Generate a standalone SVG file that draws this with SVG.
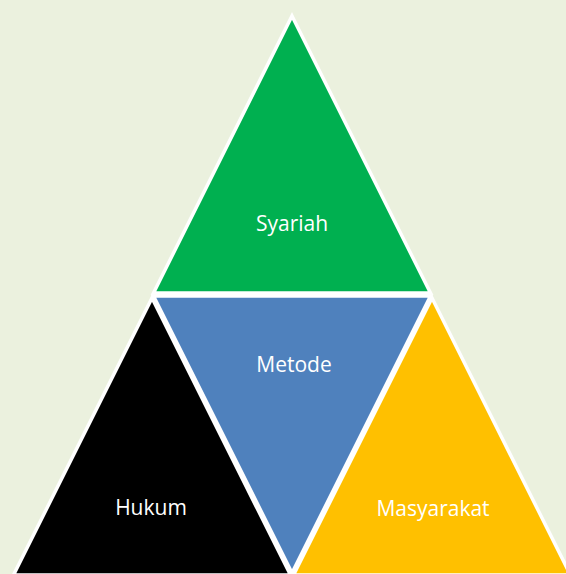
<svg xmlns="http://www.w3.org/2000/svg" width="566" height="574" viewBox="0 0 566 574">
<style>
.tri{stroke:#FFFFFF;stroke-width:3.5;stroke-linejoin:miter}
.lbl{font-family:"Open Sans","Liberation Sans",sans-serif;font-size:21px;fill:#FFFFFF;text-anchor:middle}
</style>
<rect x="0" y="0" width="566" height="574" fill="#EBF1DE"/>
<g id="syariah">
<polygon class="tri" fill="#00B050" points="292,16 430.5,293 153.5,293"/>
<text class="lbl" x="292" y="231">Syariah</text>
</g>
<g id="metode">
<polygon class="tri" fill="#4F81BD" points="153.5,296 430.5,296 292,573"/>
<text class="lbl" x="294" y="372">Metode</text>
</g>
<g id="hukum">
<polygon class="tri" fill="#000000" points="152,298 290.5,575 13.5,575"/>
<text class="lbl" x="151" y="515">Hukum</text>
</g>
<g id="masyarakat">
<polygon class="tri" fill="#FFC000" points="432,298 570.5,575 293.5,575"/>
<text class="lbl" x="433" y="516">Masyarakat</text>
</g>
<g id="connectors"/>
</svg>
